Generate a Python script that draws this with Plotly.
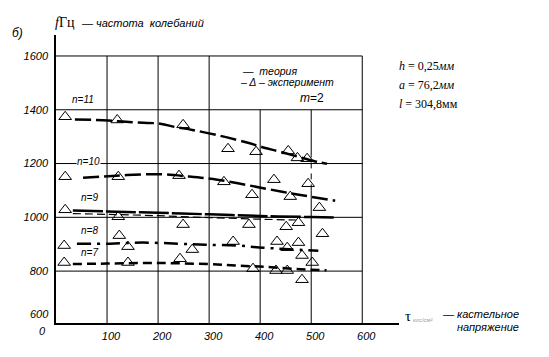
import plotly.graph_objects as go

# ---- data ----
x_ticks = [100, 200, 300, 400, 500, 600]
y_ticks = [800, 1000, 1200, 1400, 1600]

th11_x = [37, 102, 137, 204, 233, 267, 322, 376, 410, 439, 510, 531]
th11_y = [1364, 1360, 1355, 1348, 1336, 1325, 1303, 1277, 1258, 1244, 1207, 1199]
th10_x = [53, 102, 139, 204, 259, 316, 380, 443, 476, 547]
th10_y = [1147, 1153, 1157, 1160, 1152, 1140, 1118, 1095, 1084, 1062]
th9_x = [33, 100, 200, 300, 400, 500, 545]
th9_y = [1025, 1022, 1017, 1011, 1005, 1001, 999]
th9b_x = [33, 100, 200, 300, 400, 470]
th9b_y = [1014, 1011, 1006, 999, 993, 990]
th8_x = [41, 106, 169, 239, 292, 355, 406, 514]
th8_y = [902, 902, 906, 902, 898, 895, 887, 876]
th7_x = [33, 100, 200, 300, 360, 410, 470, 530]
th7_y = [826, 828, 830, 826, 820, 816, 808, 803]

ex11_x = [18, 120, 249, 337, 392, 455, 473, 492]
ex11_y = [1374, 1362, 1344, 1255, 1244, 1247, 1221, 1218]
ex10_x = [18, 122, 241, 329, 384, 427, 459, 494, 516]
ex10_y = [1151, 1151, 1155, 1132, 1084, 1140, 1077, 1125, 1036]
ex9_x = [18, 122, 249, 378, 451, 475, 522]
ex9_y = [1028, 1002, 973, 973, 965, 980, 939]
ex8_x = [16, 124, 141, 267, 347, 433, 453, 475, 482, 502]
ex8_y = [895, 932, 891, 880, 910, 910, 887, 906, 858, 832]
ex7_x = [16, 141, 243, 386, 431, 453, 482]
ex7_y = [832, 832, 846, 809, 802, 802, 768]

n_labels = ["n=11", "n=10", "n=9", "n=8", "n=7"]
n_label_x = [53, 63, 65, 65, 65]
n_label_y = [1437, 1207, 1073, 950, 869]

# ---- layout geometry (pixels) ----
W, H = 549, 357
L, R, T, B = 56, 399, 35, 323
X_RANGE = [0, 672]
Y_RANGE = [607, 1678]


def px(xp):
    return (xp - L) / (R - L)


def py(yp):
    return (B - yp) / (B - T)


SANS = "Liberation Sans"
SERIF = "Liberation Serif"

fig = go.Figure()

# theory curves
for xs, ys, dash, w in [
    (th11_x, th11_y, "16px,5px", 2.5),
    (th10_x, th10_y, "16px,5px", 2.5),
    (th9_x, th9_y, "30px,3px", 2.5),
    (th9b_x, th9b_y, "8px,4px", 1.2),
    (th8_x, th8_y, "14px,6px,3px,6px", 2.5),
    (th7_x, th7_y, "9px,5px", 2.5),
]:
    fig.add_trace(go.Scatter(x=xs, y=ys, mode="lines", line_shape="spline",
                             line=dict(color="black", width=w, dash=dash),
                             hoverinfo="skip"))

# experiment points
for xs, ys in [(ex11_x, ex11_y), (ex10_x, ex10_y), (ex9_x, ex9_y),
               (ex8_x, ex8_y), (ex7_x, ex7_y)]:
    fig.add_trace(go.Scatter(x=xs, y=ys, mode="markers",
                             marker=dict(symbol="triangle-up-open", size=11,
                                         color="black", line=dict(width=1)),
                             cliponaxis=False))

# grid lines as shapes
shapes = []
for yv in y_ticks:
    shapes.append(dict(type="line", x0=0, x1=600, y0=yv, y1=yv,
                       line=dict(color="black", width=1), layer="below"))
for xv in x_ticks:
    top = 1400 if xv in (400, 500) else 1600
    if xv == 500:
        shapes.append(dict(type="line", x0=xv, x1=xv, y0=1230, y1=top,
                           line=dict(color="black", width=1), layer="below"))
        shapes.append(dict(type="line", x0=xv, x1=xv, y0=1100, y1=1230,
                           line=dict(color="black", width=1, dash="6px,5px"), layer="below"))
        shapes.append(dict(type="line", x0=xv, x1=xv, y0=Y_RANGE[0], y1=1100,
                           line=dict(color="black", width=1), layer="below"))
    else:
        shapes.append(dict(type="line", x0=xv, x1=xv, y0=Y_RANGE[0], y1=top,
                           line=dict(color="black", width=1), layer="below"))

ann = []
# n labels
for t, xv, yv in zip(n_labels, n_label_x, n_label_y):
    ann.append(dict(x=xv, y=yv, xref="x", yref="y", text="<i>" + t + "</i>",
                    showarrow=False, bgcolor="white", borderpad=0,
                    font=dict(family=SANS, size=10, color="black")))


def note(text, x, y, size=11, family=SANS, xanchor="left", color="black"):
    ann.append(dict(x=px(x), y=py(y), xref="paper", yref="paper", text=text,
                    showarrow=False, xanchor=xanchor, yanchor="middle",
                    font=dict(family=family, size=size, color=color)))


note("<i>б)</i>", 10, 33, size=12)
note("<i>f</i>Гц", 53, 22, size=14, family=SERIF)
note("<i>— частота  колебаний</i>", 79, 23, size=11)
note("<i>—  теория</i>", 240, 71, size=10.5)
note("<i>– Δ – эксперимент</i>", 238, 82, size=10.5)
note("<i>m</i>=2", 298, 98, size=12)
note("<i>h</i> = 0,25<i>мм</i>", 397, 66, size=12, family=SERIF)
note("<i>a</i> = 76,2<i>мм</i>", 397, 85, size=12, family=SERIF)
note("<i>l</i> = 304,8мм", 397, 104, size=12, family=SERIF)
note("τ", 403, 316, size=15, family=SERIF)
note("<i>кгс/см²</i>", 411, 320, size=6, color="#999999")
note("<i>— кастельное</i>", 440, 314, size=11)
note("<i>напряжение</i>", 455, 327, size=11)
note("<i>600</i>", 51, 314, size=11, xanchor="right")
note("<i>0</i>", 48, 331, size=11, xanchor="right")

fig.update_layout(
    width=W, height=H,
    margin=dict(l=L, r=W - R, t=T, b=H - B),
    paper_bgcolor="white", plot_bgcolor="white",
    showlegend=False,
    shapes=shapes,
    annotations=ann,
    xaxis=dict(range=X_RANGE, tickvals=x_ticks, showgrid=False, zeroline=False,
               showline=True, linecolor="black", linewidth=1.5, ticks="",
               ticklabelshift=4, ticklabelstandoff=2,
               tickfont=dict(family=SANS, size=11, color="black", style="italic")),
    yaxis=dict(range=Y_RANGE, tickvals=y_ticks, showgrid=False, zeroline=False,
               showline=True, linecolor="black", linewidth=1.5, ticks="",
               ticklabelstandoff=4,
               tickfont=dict(family=SANS, size=11, color="black", style="italic")),
)

fig.write_html("out.html", config={"displayModeBar": False},
               post_script="document.body.style.margin='0px';")
